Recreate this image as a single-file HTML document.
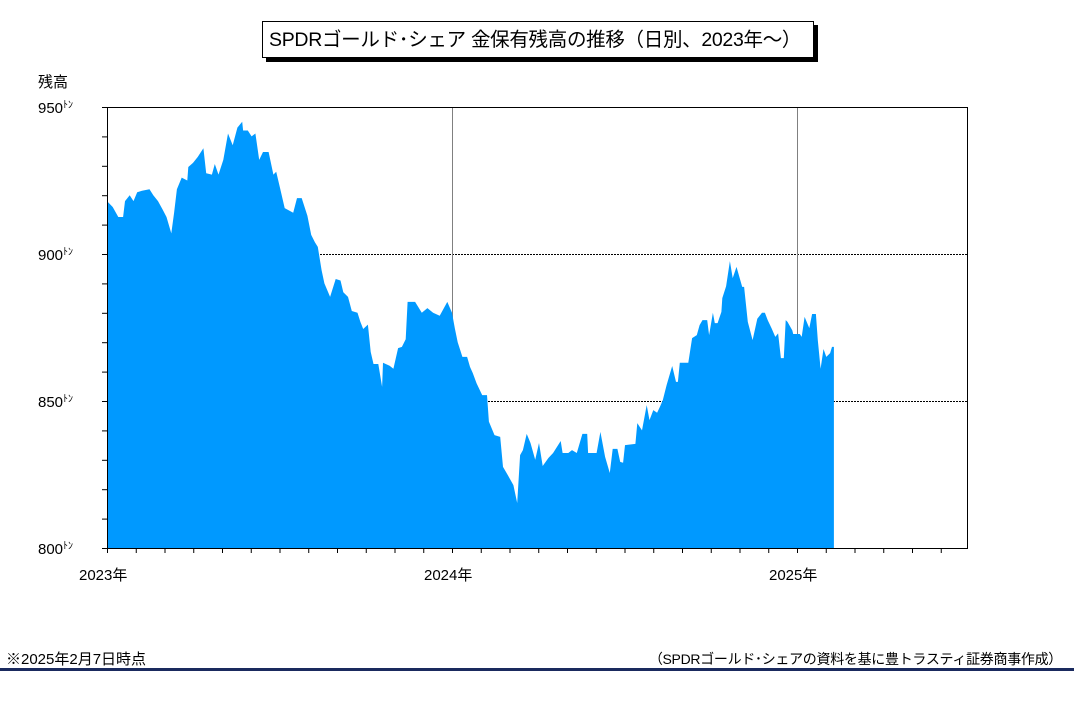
<!DOCTYPE html>
<html><head><meta charset="utf-8">
<style>
body{margin:0;background:#fff;width:1074px;height:707px;overflow:hidden;position:relative;font-family:"Liberation Sans","Noto Sans CJK JP",sans-serif;color:#000}
#title{position:absolute;left:262px;top:21px;width:552px;height:37px;border:1px solid #000;box-shadow:4px 4px 0 #000;background:#fff;font-size:19.5px;letter-spacing:-0.3px;line-height:37px;padding-left:6px;box-sizing:border-box;white-space:nowrap;z-index:2}
.t{position:absolute;font-size:15px;white-space:nowrap;z-index:2}
</style></head><body>
<div id="title">SPDRゴールド･シェア 金保有残高の推移（日別、2023年～）</div>
<div class="t" style="left:38px;top:71px">残高</div>
<div class="t" style="left:6px;top:648px">※2025年2月7日時点</div>
<div class="t" style="right:12px;top:649px;font-size:14px;letter-spacing:-0.3px">（SPDRゴールド･シェアの資料を基に豊トラスティ証券商事作成）</div>
<div style="position:absolute;left:0;top:668px;width:1074px;height:3px;background:#1a2a5e"></div>
<svg id="chart" width="1074" height="707" style="position:absolute;left:0;top:0"></svg>
<script>
const days=[0,6,12,17,19,24,28,32,37,45,49,54,59,63,68,71,74,79,85,86,91,96,102,105,111,114,118,123,128,133,138,143,144,149,153,157,161,165,171,176,179,183,188,197,201,206,212,216,220,223,227,230,236,242,247,250,255,259,265,268,271,276,279,282,287,291,292,299,303,308,312,316,318,326,333,339,345,352,360,365,368,371,376,381,384,387,391,397,402,404,410,416,419,424,430,434,437,440,444,448,453,457,461,467,472,480,482,488,492,497,503,508,509,518,522,527,532,535,540,543,546,548,559,561,566,571,574,578,582,585,588,592,598,602,604,606,615,619,624,627,630,635,637,641,643,646,650,651,655,659,662,666,672,674,678,683,688,693,696,699,703,707,710,713,716,718,720,725,726,733,735,738,743,746,750,752,755,758,761,765,767,769];
const tons=[918,916,912.6,912.6,918,920,918,921,921.5,922,920,918,915,912.6,907,914,922,926,925,929.6,931,933,936,927.5,927,930.6,927,932,941,937,943,945,942,942,940,941,932,934.7,934.7,927,928,922.5,915.6,914,919,919,913,906.5,904,902.4,894.5,890,885.4,891.5,891,887,885.4,880.6,880,877,874.5,876,866.7,862.6,862.6,854.8,863,862,861,868,868.4,871,883.7,883.7,880,881.6,880,879,883.7,880,874.8,870,865,865,861.6,859.5,856,852,852,843,838.4,837.8,827.6,824.8,821.4,815.3,831.6,833.3,838.8,835.7,830,835.7,827.9,830.6,832.3,836.4,832.3,832.3,833.3,832.3,838.8,838.8,832.3,832.3,839.5,831,825.5,833.7,833.7,829.3,829,835,835.4,842.5,840,848.6,843.5,846.9,846,848,850.3,855.4,861.9,856.5,856.5,863,863,871.4,872.4,875.8,877.5,877.5,872.4,880,876.5,876.5,880.3,885,889,897.6,891.8,895.6,888.8,888.8,876.9,870.7,878,880,880,877.5,874.8,871.8,873,864.6,864.6,877.5,876.9,874,872.8,872.8,871.8,878.6,874.8,879.6,879.6,870.7,861,867.7,865,866.3,868.4,868.4];
const yTicks=[800,850,900,950];
const xYears=["2023年","2024年","2025年"];
const L=107,R=967,T=107,B=548,Y0=800,Y1=950,PXD=345/365;
const xs=d=>L+d*PXD, ys=v=>B-(v-Y0)/(Y1-Y0)*(B-T);
const svg=document.getElementById('chart'),NS='http://www.w3.org/2000/svg';
function mk(t,a,p){const e=document.createElementNS(NS,t);for(const k in a)e.setAttribute(k,a[k]);(p||svg).appendChild(e);return e;}
[850,900].forEach(v=>{const g=mk('line',{x1:L,x2:R,y1:ys(v)+0.5,y2:ys(v)+0.5,stroke:'#000','stroke-width':1,'stroke-dasharray':'2,1'});

});
[1,2].forEach(i=>{const g=mk('line',{x1:L+i*345+0.5,x2:L+i*345+0.5,y1:T,y2:B,stroke:'#808080','stroke-width':1});

});
let d='M'+xs(days[0])+','+B;
days.forEach((dd,i)=>{d+=' L'+xs(dd).toFixed(1)+','+ys(tons[i]).toFixed(1);});
d+=' L'+xs(days[days.length-1]).toFixed(1)+','+B+' Z';
const area=mk('path',{d:d,fill:'#0099ff'});


const fr=mk('rect',{x:L+0.5,y:T+0.5,width:R-L,height:B-T,fill:'none',stroke:'#000','stroke-width':1});


for(let v=Y0;v<=Y1;v+=10){const tk=mk('line',{x1:L-5,x2:L,y1:ys(v)+0.5,y2:ys(v)+0.5,stroke:'#000'});

}
yTicks.forEach(v=>{const tx=mk('text',{x:38,y:ys(v)+6,'font-size':15,'font-family':'Liberation Sans, Noto Sans CJK JP, sans-serif'});
tx.textContent=v;
const sp=mk('tspan',{'font-size':10,dy:-5},tx);sp.textContent='ﾄﾝ';

});
for(let m=0;m<=30;m++){const x=L+m*345/12;if(x>R+1)break;const tk=mk('line',{x1:x+0.5,x2:x+0.5,y1:B,y2:B+5,stroke:'#000'});

}
xYears.forEach((s,i)=>{const tx=mk('text',{x:L+i*345-28,y:580,'font-size':15,'font-family':'Liberation Sans, Noto Sans CJK JP, sans-serif'});tx.textContent=s;

});
</script>
</body></html>
